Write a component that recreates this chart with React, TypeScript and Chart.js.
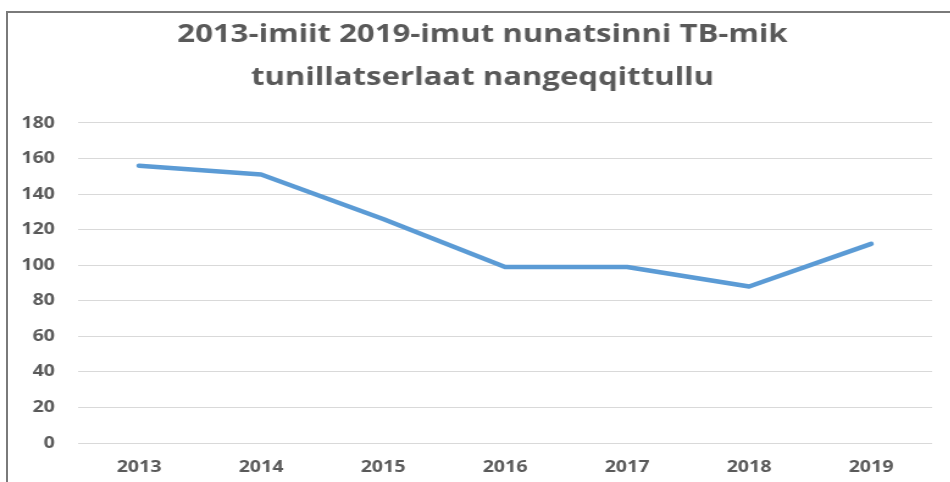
import React, { useEffect, useRef } from "react";
import { Chart, registerables } from "chart.js";

Chart.register(...registerables);

const years: string[] = ["2013", "2014", "2015", "2016", "2017", "2018", "2019"];
const cases: number[] = [156, 151, 126, 99, 99, 88, 112];
const titleLines: string[] = ["2013-imiit 2019-imut nunatsinni TB-mik", "tunillatserlaat nangeqqittullu"];
const yMin = 0;
const yMax = 180;
const yStep = 20;

const STRETCH = 1.22;
const W = 950;
const H = 482;
const CW = 790;
const FONT = "'Open Sans', sans-serif";
const TEXT = "#595959";

export default function App() {
  const ref = useRef<HTMLCanvasElement>(null);
  useEffect(() => {
    const chart = new Chart(ref.current as HTMLCanvasElement, {
      type: "line",
      data: {
        labels: years,
        datasets: [
          {
            data: cases,
            borderColor: "#5B9BD5",
            backgroundColor: "#5B9BD5",
            borderWidth: 4.5,
            pointRadius: 0,
            tension: 0,
            borderCapStyle: "round",
            borderJoinStyle: "round",
          },
        ],
      },
      options: {
        animation: false,
        responsive: false,
        maintainAspectRatio: false,
        devicePixelRatio: 1,
        layout: { padding: { left: 8, right: 7, top: 0, bottom: 5 } },
        plugins: {
          legend: { display: false },
          tooltip: { enabled: false },
          title: {
            display: true,
            text: titleLines,
            color: TEXT,
            font: { family: FONT, size: 25.5, weight: "bold", lineHeight: 1.686 },
            padding: { top: 13.5, bottom: 23.5 },
          },
        },
        scales: {
          x: {
            offset: true,
            grid: { display: false, drawTicks: false },
            border: { display: false },
            ticks: {
              color: TEXT,
              font: { family: FONT, size: 16, weight: "bold" },
              padding: 15,
              maxRotation: 0,
              autoSkip: false,
            },
            afterFit: (s: any) => {
              s.height = 34;
            },
          },
          y: {
            min: yMin,
            max: yMax,
            ticks: {
              stepSize: yStep,
              color: TEXT,
              font: { family: FONT, size: 16, weight: "bold" },
              padding: 19,
            },
            grid: { color: "#d9d9d9", lineWidth: 1, drawTicks: false },
            border: { display: false },
            afterFit: (s: any) => {
              s.width = 56;
            },
          },
          spacer: {
            type: "linear",
            position: "right",
            display: true,
            grid: { display: false, drawTicks: false },
            border: { display: false },
            ticks: { display: false },
            afterFit: (s: any) => {
              s.width = 19;
            },
          },
        },
      },
    });
    return () => chart.destroy();
  }, []);

  return (
    <div style={{ position: "fixed", left: 0, top: 0, width: W, height: H, background: "#fff", overflow: "hidden" }}>
      <div
        style={{
          position: "absolute",
          left: 6,
          top: 11,
          width: W + 20,
          height: H + 20,
          borderTop: "2px solid #7a7a7a",
          borderLeft: "2px solid #7a7a7a",
          boxSizing: "border-box",
        }}
      />
      <div
        style={{
          position: "absolute",
          left: 0,
          top: 0,
          width: CW,
          height: H,
          transform: `scaleX(${STRETCH})`,
          transformOrigin: "0 0",
        }}
      >
        <canvas ref={ref} width={CW} height={H} style={{ width: CW, height: H, display: "block" }} />
      </div>
    </div>
  );
}
